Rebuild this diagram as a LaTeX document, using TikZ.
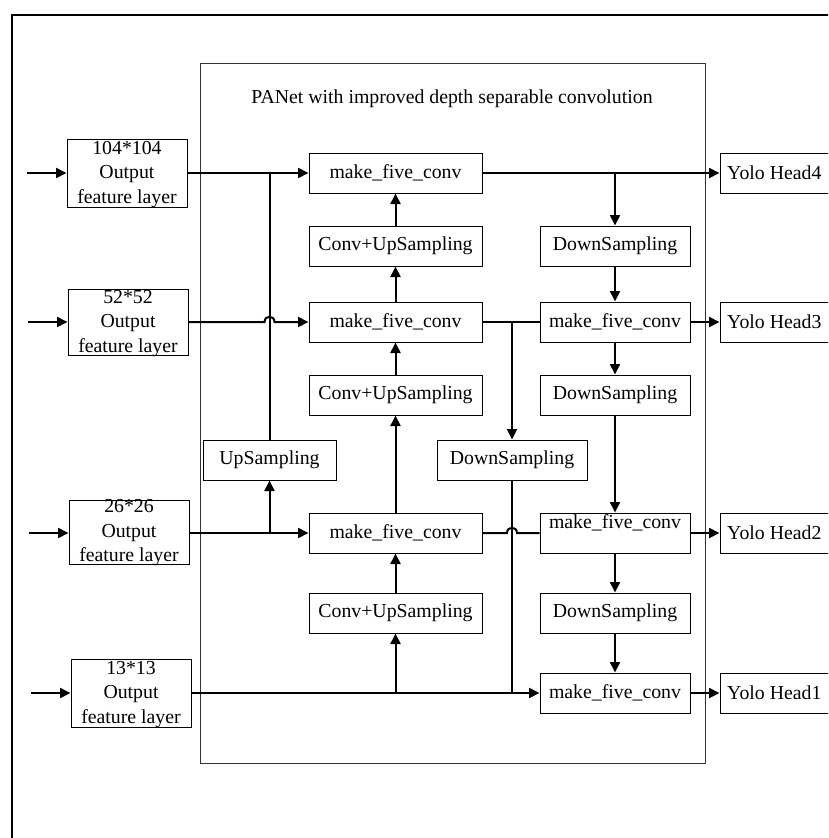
\documentclass[tikz,border=0pt]{standalone}
\usepackage{fontspec}
\setmainfont{Liberation Serif}
\usetikzlibrary{arrows.meta}
\begin{document}
\begin{tikzpicture}[x=1pt,y=-1pt,
 bx/.style={draw,line width=1pt,inner sep=0pt,minimum height=40pt,font=\fontsize{19.8}{24}\selectfont},
 wa/.style={minimum width=173pt},
 wb/.style={minimum width=150pt},
 inbox/.style={draw,line width=1pt,inner sep=0pt,minimum width=120pt},
 txt/.style={inner sep=0pt,font=\fontsize{19.8}{24.5}\selectfont,align=center},
 con/.style={line width=2pt},
 arr/.style={con,-{Triangle[length=10.5pt,width=10pt]}}]
\useasboundingbox (0,0) rectangle (828,838);
\clip (0,0) rectangle (828,838);
% frames
\draw[line width=1.8pt] (12,845) -- (12,15) -- (840,15);
\draw[line width=0.9pt,black!80] (200,63) rectangle (705,763);
\node[txt] (title) at (452,99) {PANet with improved depth separable convolution};
% input boxes
\node[inbox,minimum height=68pt] (in104) at (127,173) {};
\node[txt] (t104) at ([yshift=-1.5pt]in104.center) {104*104\\Output\\feature layer};
\node[inbox,minimum height=66pt] (in52) at (128,322) {};
\node[txt] (t52) at ([yshift=-1.5pt]in52.center) {52*52\\Output\\feature layer};
\node[inbox,minimum height=64pt] (in26) at (129,532) {};
\node[txt] (t26) at ([yshift=-1pt]in26.center) {26*26\\Output\\feature layer};
\node[inbox,minimum height=68pt] (in13) at (131,693) {};
\node[txt] (t13) at ([yshift=-1.5pt]in13.center) {13*13\\Output\\feature layer};
\coordinate (s104) at (27,173);
\coordinate (s52) at (28,322);
\coordinate (s26) at (29,533);
\coordinate (s13) at (31,693);
% middle column
\node[bx,wa] (mfc1) at (395.5,173) {make\_five\_conv};
\node[bx,wa] (cu1) at (395.5,246) {Conv+UpSampling};
\node[bx,wa] (mfc2) at (395.5,322) {make\_five\_conv};
\node[bx,wa] (cu2) at (395.5,395) {Conv+UpSampling};
\node[bx,wa] (mfc3) at (395.5,533) {make\_five\_conv};
\node[bx,wa] (cu3) at (395.5,613) {Conv+UpSampling};
\node[bx,minimum width=133pt] (up) at (269.5,460) {UpSampling};
\node[bx,wb] (dmid) at (512,460) {DownSampling};
% right column
\node[bx,wb] (ds1) at (615,246) {DownSampling};
\node[bx,wb] (mfr1) at (615,322) {make\_five\_conv};
\node[bx,wb] (ds2) at (615,395) {DownSampling};
\node[bx,wb] (mfr2) at (615,533) {};
\node[txt] (tmfr2) at ([yshift=10pt]mfr2.center) {make\_five\_conv};
\node[bx,wb] (ds3) at (615,613) {DownSampling};
\node[bx,wb] (mfr3) at (615,693) {make\_five\_conv};
% heads
\node[bx,minimum width=120pt] (yh4) at (780,173) {};
\node[txt,anchor=west] (t4) at (727,173) {Yolo Head4};
\node[bx,minimum width=120pt] (yh3) at (780,322) {};
\node[txt,anchor=west] (t3) at (727,322) {Yolo Head3};
\node[bx,minimum width=120pt] (yh2) at (780,533) {};
\node[txt,anchor=west] (t2) at (727,533) {Yolo Head2};
\node[bx,minimum width=120pt] (yh1) at (780,693) {};
\node[txt,anchor=west] (t1) at (727,693) {Yolo Head1};
% input arrows
\draw[arr] (s104) -- (in104.west);
\draw[arr] (s52) -- (in52.west);
\draw[arr] (s26) -- (in26.west |- s26);
\draw[arr] (s13) -- (in13.west);
% jump coordinates
\coordinate (j1) at (up.north |- in52.east);
\coordinate (j2) at (dmid.south |- mfc3.east);
% horizontal feeds
\draw[arr] (in104.east) -- (mfc1.west);
\draw[con] (up.north) -- (up.north |- mfc1.west);
\draw[arr] (in52.east) -- ([xshift=-5pt]j1) .. controls +(0,-7) and +(0,-7) .. ([xshift=5pt]j1) -- (mfc2.west);
\draw[arr] (in26.east |- mfc3.west) -- (mfc3.west);
\draw[arr] (up.south |- mfc3.west) -- (up.south);
\draw[arr] (in13.east) -- (mfr3.west);
\draw[arr] (cu3.south |- in13.east) -- (cu3.south);
\draw[con] (dmid.south) -- (dmid.south |- mfr3.west);
% upward chain
\draw[arr] (cu3.north) -- (mfc3.south);
\draw[arr] (mfc3.north) -- (cu2.south);
\draw[arr] (cu2.north) -- (mfc2.south);
\draw[arr] (mfc2.north) -- (cu1.south);
\draw[arr] (cu1.north) -- (mfc1.south);
% right side
\draw[arr] (mfc1.east) -- (yh4.west);
\draw[arr] (ds1.north |- mfc1.east) -- (ds1.north);
\draw[arr] (ds1.south) -- (mfr1.north);
\draw[con] (mfc2.east) -- (mfr1.west);
\draw[arr] (dmid.north |- mfc2.east) -- (dmid.north);
\draw[arr] (mfr1.east) -- (yh3.west);
\draw[arr] (mfr1.south) -- (ds2.north);
\draw[arr] (ds2.south) -- (mfr2.north);
\draw[con] (mfc3.east) -- ([xshift=-5pt]j2) .. controls +(0,-7) and +(0,-7) .. ([xshift=5pt]j2) -- (mfr2.west);
\draw[arr] (mfr2.east) -- (yh2.west);
\draw[arr] (mfr2.south) -- (ds3.north);
\draw[arr] (ds3.south) -- (mfr3.north);
\draw[arr] (mfr3.east) -- (yh1.west);
\end{tikzpicture}
\end{document}
